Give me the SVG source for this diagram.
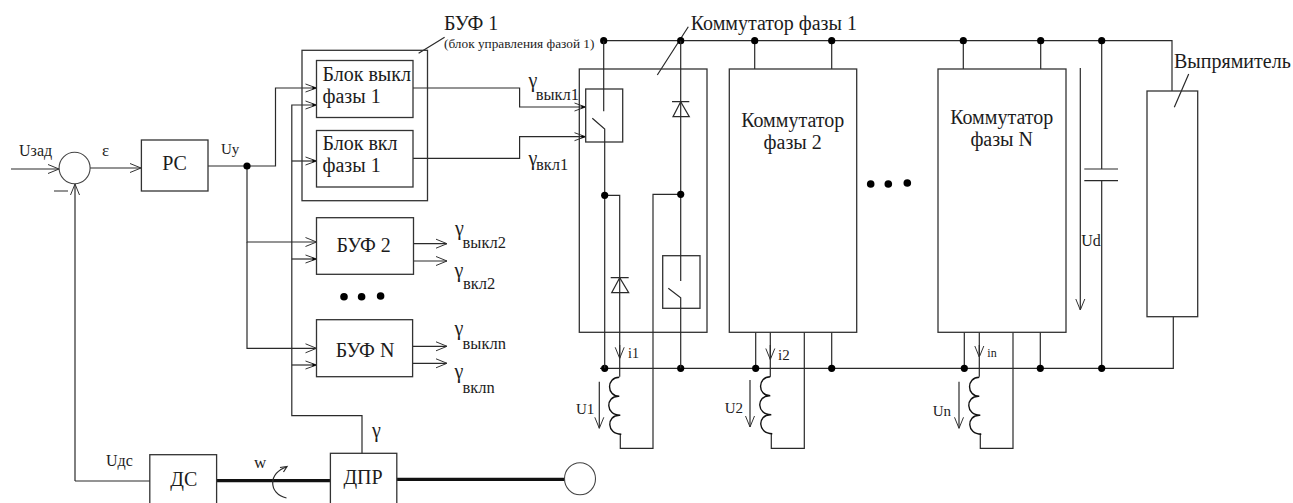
<svg xmlns="http://www.w3.org/2000/svg" xmlns:xlink="http://www.w3.org/1999/xlink" width="1293" height="503" viewBox="0 0 1293 503">
<style>
text{font-family:"Liberation Serif","Times New Roman",serif;fill:#1c1c1c}
.b{fill:none;stroke:#333;stroke-width:1.3}
.l{fill:none;stroke:#2a2a2a;stroke-width:1.2}
.t{fill:none;stroke:#111;stroke-width:3.2}
.d{fill:#000}
.c{fill:#fff;stroke:#444;stroke-width:1.1}
.a{marker-end:url(#arr)}
.s{marker-end:url(#arrd)}
.coil{fill:none;stroke:#111;stroke-width:1.4}
.f20{font-size:20px}.f15{font-size:15px}.f16{font-size:16px}.sub{font-size:16.5px}.g{font-size:20px}
</style>
<defs>
<marker id="arr" markerUnits="userSpaceOnUse" markerWidth="14" markerHeight="12" refX="12" refY="6" orient="auto"><path d="M1 1.500L12 6L1 10.500" fill="none" stroke="#333" stroke-width="1"/></marker>
<marker id="arrd" markerUnits="userSpaceOnUse" markerWidth="14" markerHeight="12" refX="12" refY="6" orient="auto"><path d="M1 2L12 6L1 10" fill="none" stroke="#333" stroke-width="1"/><path d="M8 4.500L12 6L8 7.500Z" fill="#000"/></marker>
<path id="coil" class="coil" d="M0 0C-13 0-13 19 0 19M-1 19C-14 19-14 38 1 38M0 38C-13 38-13 57 2 57"/>
</defs>
<rect width="1293" height="503" fill="#fff"/>

<g id="connectors">
<path class="l a" d="M11 169H59"/>
<path class="l a" d="M90 168H141"/>
<path class="l a" d="M75 481V184"/>
<path class="l" d="M75 481H150M54 191H68"/>
<path class="l s" d="M208 166H275.500V88H316.500"/>
<path class="l a" d="M247 166V242H316.500"/>
<path class="l a" d="M247 242V348.300H316.500"/>
<path class="l s" d="M362 453.500V415.700H291.800V105H316.500"/>
<path class="l s" d="M291.800 161H316.500"/>
<path class="l s" d="M291.800 259H316.500"/>
<path class="l s" d="M291.800 365H316.500"/>
<path class="l a" d="M413.500 243.700H447"/>
<path class="l a" d="M413.500 261H447"/>
<path class="l a" d="M412.600 346.300H447"/>
<path class="l a" d="M412.600 363.300H447"/>
<path class="l s" d="M413 88H519.600V107H585.500"/>
<path class="l s" d="M413 158.300H519.600V136.700H585.500"/>
<path class="t" d="M216.600 480.700H330.400M396.800 479.300H565"/>
<path class="l" d="M418.600 53.300L444.600 37.300M688.300 26.700L657.300 75M1188.700 74L1174.300 107.300"/>
<path class="l" d="M287 467C268 472 268 494 286.500 498"/>
<path class="l" d="M280 467.500L287 466.500L283.500 472"/>
<path class="l" d="M603.700 40.700H1172V91M754.700 40.700V69M831.700 40.700V69M963.300 40.700V69M1040.700 40.700V69"/>
<path class="l" d="M600 368.300H1173.300V316.700"/>
<path class="l" d="M1101.700 40.700V169M1101.700 180.700V368.300M1084.300 169H1118M1084.300 180.700H1118"/>
<path class="l a" d="M1080.300 68V310"/>
<path class="l" d="M755.700 332.300V368.300M770.300 332.300V376.700M831.700 332.300V368.300M804.300 332.300V448.300H771.300V433.500M964.300 332.300V368.300M979.300 332.300V376.700M1040.300 332.300V368.300M1013 332.300V448.300H980.300V433.500"/>
<path class="l a" d="M619.700 345V358.300"/>
<path class="l a" d="M770.300 345V359.500"/>
<path class="l a" d="M979.300 345V357"/>
<path class="l a" d="M599.300 381.700V428.300"/>
<path class="l a" d="M750 380V427"/>
<path class="l a" d="M959 381.700V428.300"/>
<g class="d">
<circle cx="247" cy="166" r="3.600"/><circle cx="603.700" cy="40.700" r="3.600"/><circle cx="680.700" cy="40.700" r="3.600"/><circle cx="754.700" cy="40.700" r="3.600"/><circle cx="831.700" cy="40.700" r="3.600"/><circle cx="963.300" cy="40.700" r="3.600"/><circle cx="1040.700" cy="40.700" r="3.600"/><circle cx="1101.700" cy="40.700" r="3.600"/>
<circle cx="604.700" cy="368.300" r="3.600"/><circle cx="680.700" cy="368.300" r="3.600"/><circle cx="755.700" cy="368.300" r="3.600"/><circle cx="831.700" cy="368.300" r="3.600"/><circle cx="964.300" cy="368.300" r="3.600"/><circle cx="1040.300" cy="368.300" r="3.600"/><circle cx="1101.700" cy="368.300" r="3.600"/>
</g>
</g>

<g id="sum"><ellipse class="c" cx="74.600" cy="168" rx="15.500" ry="15.700"/></g>
<g id="rc"><rect class="b" x="141.400" y="140" width="66.600" height="51"/><text class="f20" x="174.600" y="170" text-anchor="middle">РС</text></g>
<g id="buf1">
<rect class="b" x="302" y="50.300" width="125.500" height="150.400"/>
<text class="f20" x="444" y="30">БУФ 1</text>
<text x="444" y="48" font-size="13.300">(блок управления фазой 1)</text>
</g>
<g id="block-off"><rect class="b" x="316.500" y="60.500" width="96.500" height="57"/><text class="f20" x="322.500" y="80.700">Блок выкл</text><text class="f20" x="322.500" y="102.700">фазы 1</text></g>
<g id="block-on"><rect class="b" x="316.500" y="130.500" width="96.500" height="56.500"/><text class="f20" x="322.500" y="150">Блок вкл</text><text class="f20" x="322.500" y="172">фазы 1</text></g>
<g id="buf2"><rect class="b" x="316.500" y="217.700" width="97" height="56.600"/><text class="f20" x="363.600" y="251.700" text-anchor="middle">БУФ 2</text></g>
<g id="bufn"><rect class="b" x="316.500" y="319.700" width="96.100" height="57"/><text class="f20" x="365" y="357" text-anchor="middle">БУФ N</text></g>
<g id="dots-left" class="d"><circle cx="344" cy="296.700" r="3.800"/><circle cx="361.600" cy="296.700" r="3.800"/><circle cx="380.600" cy="296" r="3.800"/></g>
<g id="ds"><rect class="b" x="149.800" y="454.700" width="66.800" height="60"/><text class="f20" x="183.800" y="486" text-anchor="middle">ДС</text></g>
<g id="dpr"><rect class="b" x="330.400" y="453.300" width="66.400" height="60"/><text class="f20" x="363" y="484" text-anchor="middle">ДПР</text></g>
<g id="motor"><ellipse class="c" cx="580" cy="478.700" rx="15.500" ry="16"/></g>

<g id="commutator-1">
<rect class="b" x="579.300" y="69" width="127.700" height="263.300"/>
<rect class="b" x="585.700" y="89" width="37" height="53"/>
<rect class="b" x="662.700" y="255.700" width="37.300" height="52.600"/>
<path class="l" d="M603.700 40.700V111.300M592.300 118.300L604.700 129V368.300M604.700 195.300H619.700V376.700M680.700 40.700V281M668.300 288.300L680.700 297.700V368.300M680.700 194.300H653V448.300H620.300V434"/>
<path class="l" d="M672 101.700H689.300M680.700 101.700L673 116.700H689.300Z"/>
<path class="l" d="M610.700 277.700H628.700M619.700 277.700L611.700 292.700H628.700Z"/>
<circle class="d" cx="604.700" cy="195.300" r="3.600"/><circle class="d" cx="680.700" cy="194.300" r="3.600"/>
<use xlink:href="#coil" href="#coil" x="619.300" y="377.300"/>
</g>
<g id="commutator-2"><rect class="b" x="729.300" y="69" width="127.400" height="263.300"/><text class="f20" x="792.700" y="126.700" text-anchor="middle">Коммутатор</text><text class="f20" x="792.700" y="149" text-anchor="middle">фазы 2</text><use xlink:href="#coil" href="#coil" x="770.300" y="376.700"/></g>
<g id="commutator-n"><rect class="b" x="938" y="69" width="128" height="263.300"/><text class="f20" x="1001.700" y="124" text-anchor="middle">Коммутатор</text><text class="f20" x="1001.700" y="145.700" text-anchor="middle">фазы N</text><use xlink:href="#coil" href="#coil" x="979.300" y="377.300"/></g>
<g id="dots-right" class="d"><circle cx="870.700" cy="184" r="3.800"/><circle cx="888.300" cy="184" r="3.800"/><circle cx="907.300" cy="183" r="3.800"/></g>
<g id="rectifier"><rect class="b" x="1147" y="91" width="50.700" height="225.700"/><text class="f20" x="1174" y="68.300">Выпрямитель</text></g>

<g id="labels">
<text class="f16" x="19" y="156">Uзад</text>
<text font-size="17" x="102" y="156">ε</text>
<text class="f15" x="221" y="154">Uу</text>
<text class="g" x="528.600" y="87">γ</text><text class="sub" x="535.700" y="100">выкл1</text>
<text class="g" x="528.600" y="165">γ</text><text class="sub" x="536" y="170">вкл1</text>
<text class="g" x="455" y="235">γ</text><text class="sub" x="462.500" y="247.700">выкл2</text>
<text class="g" x="454.500" y="277">γ</text><text class="sub" x="463" y="289.300">вкл2</text>
<text class="g" x="454.500" y="335">γ</text><text class="sub" x="462.500" y="349.300">выклn</text>
<text class="g" x="454.500" y="378">γ</text><text class="sub" x="462.500" y="392.700">вклn</text>
<text class="g" x="372" y="436.700">γ</text>
<text class="f16" x="106" y="466">Uдс</text>
<text font-size="17" x="254" y="468">w</text>
<text class="f20" x="690.700" y="30">Коммутатор фазы 1</text>
<text font-size="14" x="628" y="358.300">i1</text>
<text class="f15" x="778" y="360">i2</text>
<text font-size="12" x="987.300" y="356.700">in</text>
<text class="f15" x="576" y="414">U1</text>
<text class="f15" x="724.700" y="413">U2</text>
<text class="f15" x="932.700" y="416">Un</text>
<text class="f16" x="1081.300" y="246">Ud</text>
</g>
</svg>
